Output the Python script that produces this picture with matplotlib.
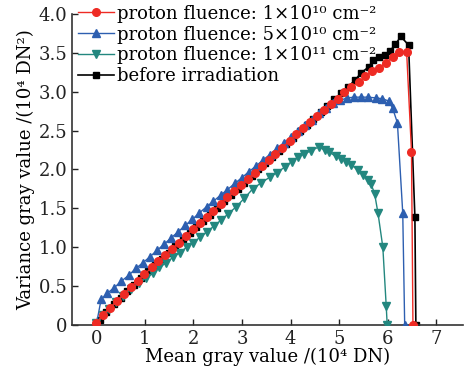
import matplotlib
matplotlib.use("Agg")
import matplotlib.pyplot as plt

plt.rcParams['font.family'] = ['DejaVu Serif']
plt.rcParams['mathtext.fontset'] = 'dejavuserif'

# ---- data (x: 10^4 DN, y: 10^4 DN^2) ----
red_x = [0, 0.14, 0.28, 0.43, 0.57, 0.71, 0.85, 0.99, 1.14, 1.28,
         1.42, 1.56, 1.70, 1.85, 1.99, 2.13, 2.27, 2.41, 2.56, 2.70,
         2.84, 2.98, 3.12, 3.27, 3.41, 3.55, 3.69, 3.83, 3.98, 4.12,
         4.26, 4.40, 4.54, 4.69, 4.83, 4.97, 5.11, 5.25, 5.40, 5.54,
         5.68, 5.82, 5.96, 6.11, 6.23, 6.39, 6.49, 6.52]
red_y = [0.02, 0.13, 0.22, 0.31, 0.40, 0.49, 0.57, 0.65, 0.74, 0.82,
         0.90, 0.98, 1.06, 1.15, 1.23, 1.31, 1.39, 1.47, 1.56, 1.64,
         1.72, 1.80, 1.88, 1.96, 2.04, 2.12, 2.20, 2.28, 2.37, 2.45,
         2.53, 2.61, 2.69, 2.76, 2.84, 2.91, 2.99, 3.06, 3.12, 3.20,
         3.26, 3.31, 3.37, 3.45, 3.51, 3.51, 2.23, 0.0]

blue_x = [0, 0.10, 0.23, 0.37, 0.51, 0.67, 0.82, 0.96, 1.11, 1.25,
          1.40, 1.54, 1.69, 1.83, 1.98, 2.12, 2.27, 2.41, 2.56, 2.70,
          2.85, 2.99, 3.14, 3.28, 3.43, 3.57, 3.72, 3.86, 4.01, 4.15,
          4.30, 4.44, 4.59, 4.73, 4.88, 5.02, 5.17, 5.31, 5.46, 5.60,
          5.75, 5.89, 6.02, 6.10, 6.20, 6.31, 6.35]
blue_y = [0, 0.33, 0.41, 0.48, 0.56, 0.64, 0.73, 0.80, 0.88, 0.96,
          1.04, 1.12, 1.20, 1.28, 1.36, 1.44, 1.52, 1.59, 1.67, 1.74,
          1.82, 1.89, 1.97, 2.04, 2.12, 2.19, 2.27, 2.34, 2.42, 2.49,
          2.57, 2.64, 2.72, 2.79, 2.85, 2.89, 2.92, 2.93, 2.93, 2.93,
          2.92, 2.91, 2.88, 2.79, 2.60, 1.44, 0.0]

teal_x = [0, 0.13, 0.27, 0.40, 0.54, 0.71, 0.87, 1.02, 1.16, 1.30,
          1.44, 1.58, 1.72, 1.86, 2.00, 2.14, 2.28, 2.42, 2.57, 2.72,
          2.88, 3.05, 3.22, 3.40, 3.57, 3.72, 3.88, 4.02, 4.15, 4.28,
          4.42, 4.58, 4.70, 4.80, 4.93, 5.04, 5.15, 5.25, 5.39, 5.49,
          5.59, 5.66, 5.73, 5.80, 5.90, 5.97, 5.99]
teal_y = [0.02, 0.13, 0.21, 0.29, 0.37, 0.46, 0.54, 0.60, 0.67, 0.74,
          0.80, 0.87, 0.93, 1.00, 1.06, 1.13, 1.20, 1.27, 1.35, 1.43,
          1.52, 1.63, 1.75, 1.83, 1.90, 1.96, 2.03, 2.10, 2.16, 2.20,
          2.24, 2.29, 2.25, 2.22, 2.17, 2.14, 2.10, 2.06, 1.99, 1.93,
          1.86, 1.81, 1.69, 1.44, 1.00, 0.24, 0.0]

black_x = [0, 0.07, 0.21, 0.36, 0.50, 0.64, 0.78, 0.92, 1.07, 1.21,
           1.35, 1.49, 1.63, 1.78, 1.92, 2.06, 2.20, 2.34, 2.49, 2.63,
           2.77, 2.91, 3.05, 3.20, 3.34, 3.48, 3.62, 3.76, 3.91, 4.05,
           4.19, 4.33, 4.47, 4.62, 4.76, 4.90, 5.04, 5.18, 5.33, 5.45,
           5.61, 5.70, 5.82, 5.94, 6.04, 6.16, 6.27, 6.43, 6.56, 6.58]
black_y = [0, 0.06, 0.17, 0.27, 0.35, 0.44, 0.52, 0.60, 0.69, 0.77,
           0.85, 0.93, 1.01, 1.10, 1.18, 1.26, 1.34, 1.42, 1.51, 1.59,
           1.67, 1.75, 1.83, 1.92, 2.00, 2.08, 2.16, 2.24, 2.33, 2.41,
           2.49, 2.57, 2.65, 2.74, 2.82, 2.90, 2.98, 3.06, 3.15, 3.24,
           3.32, 3.41, 3.44, 3.47, 3.52, 3.61, 3.71, 3.60, 1.39, 0.0]

labels = ["proton fluence: 1\u00d710\u00b9\u2070 cm\u207b\u00b2",
          "proton fluence: 5\u00d710\u00b9\u2070 cm\u207b\u00b2",
          "proton fluence: 1\u00d710\u00b9\u00b9 cm\u207b\u00b2",
          "before irradiation"]

fig = plt.figure(figsize=(4.66, 3.77), dpi=100)
ax = fig.add_axes([0.1545, 0.138, 0.839, 0.825])

l1, = ax.plot(red_x, red_y, color='#ee2b24', marker='o', ms=5.5, lw=1.0, zorder=4)
l2, = ax.plot(blue_x, blue_y, color='#2d5fb0', marker='^', ms=6, lw=1.0, zorder=3)
l3, = ax.plot(teal_x, teal_y, color='#23877f', marker='v', ms=6, lw=1.0, zorder=3)
l4, = ax.plot(black_x, black_y, color='black', marker='s', ms=5, lw=1.2, zorder=2)

ax.set_xlim(-0.5, 7.55)
ax.set_ylim(0, 4.0)
ax.set_xticks(range(0, 8))
ax.set_yticks([0, 0.5, 1.0, 1.5, 2.0, 2.5, 3.0, 3.5, 4.0])
ax.set_yticklabels(['0', '0.5', '1.0', '1.5', '2.0', '2.5', '3.0', '3.5', '4.0'])
ax.tick_params(direction='in', labelsize=13, length=4, width=1, colors='#222222')

for s in ['top', 'right']:
    ax.spines[s].set_visible(False)
for s in ['left', 'bottom']:
    ax.spines[s].set_linewidth(1.2)
    ax.spines[s].set_color('#333333')

ax.set_xlabel("Mean gray value /(10\u2074 DN)", fontsize=13, labelpad=0)
ax.set_ylabel("Variance gray value /(10\u2074 DN\u00b2)", fontsize=13, labelpad=2)

ax.legend([l1, l2, l3, l4], labels, loc='upper left', frameon=False,
          bbox_to_anchor=(0.015, 1.03), fontsize=13, handlelength=2.0,
          handletextpad=0.15, labelspacing=0.16, borderpad=0, borderaxespad=0)

fig.savefig('out.png', dpi=100)
